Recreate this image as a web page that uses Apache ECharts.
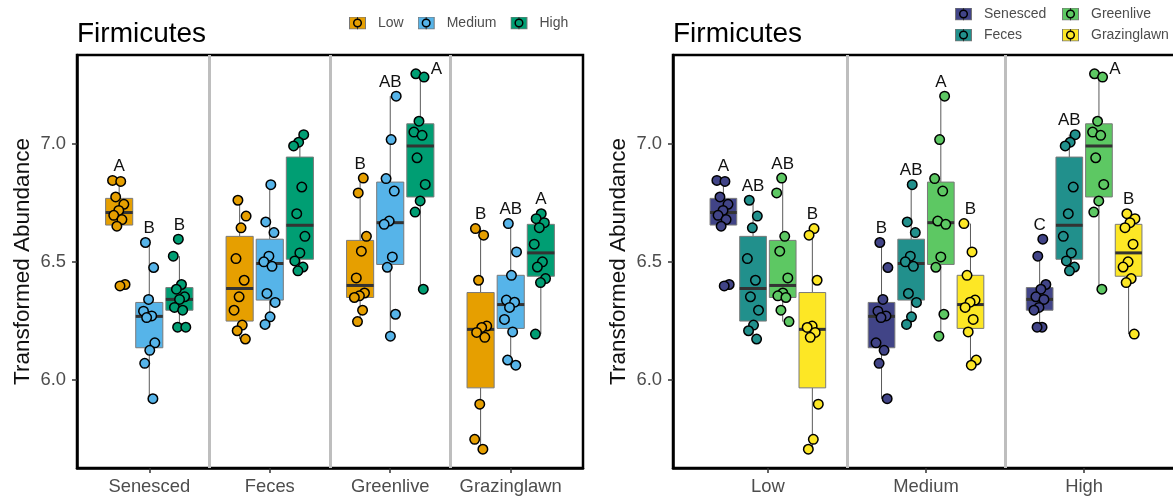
<!DOCTYPE html>
<html>
<head>
<meta charset="utf-8">
<script src="https://cdn.jsdelivr.net/npm/echarts@6/dist/echarts.min.js"></script>
<style>
html,body{margin:0;padding:0;background:#fff;}
#chart{width:1173px;height:498px;}
</style>
</head>
<body>
<div id="chart"></div>
<script>
// ---------- categories ----------
const sites = ['Senesced', 'Feces', 'Greenlive', 'Grazinglawn'];
const levels = ['Low', 'Medium', 'High'];
const levelColors = ['#E69F00', '#56B4E9', '#009E73'];
const siteColors = ['#414487', '#21908C', '#5DC863', '#FDE725'];
const yTicks = [6.0, 6.5, 7.0];

// ---------- observations (transformed abundance) ----------
const senescedLow    = [6.846, 6.842, 6.776, 6.745, 6.719, 6.698, 6.680, 6.652, 6.405, 6.399];
const senescedMedium = [6.583, 6.477, 6.342, 6.292, 6.272, 6.265, 6.158, 6.126, 6.071, 5.921];
const senescedHigh   = [6.597, 6.525, 6.405, 6.385, 6.353, 6.342, 6.308, 6.296, 6.224, 6.224];
const fecesLow       = [6.762, 6.695, 6.645, 6.515, 6.423, 6.353, 6.296, 6.233, 6.209, 6.174];
const fecesMedium    = [6.828, 6.670, 6.625, 6.525, 6.501, 6.482, 6.367, 6.329, 6.268, 6.236];
const fecesHigh      = [7.040, 7.008, 6.992, 6.818, 6.705, 6.609, 6.539, 6.505, 6.479, 6.463];
const greenliveLow   = [6.856, 6.793, 6.609, 6.546, 6.433, 6.369, 6.357, 6.350, 6.296, 6.248];
const greenliveMedium= [7.203, 7.019, 6.854, 6.801, 6.674, 6.660, 6.522, 6.478, 6.279, 6.186];
const greenliveHigh  = [7.298, 7.284, 7.097, 7.051, 7.037, 6.942, 6.829, 6.759, 6.712, 6.385];
const grazingLow     = [6.642, 6.614, 6.423, 6.229, 6.223, 6.202, 6.181, 5.898, 5.749, 5.707];
const grazingMedium  = [6.663, 6.543, 6.444, 6.339, 6.330, 6.308, 6.257, 6.204, 6.085, 6.063];
const grazingHigh    = [6.705, 6.684, 6.667, 6.646, 6.576, 6.501, 6.479, 6.430, 6.413, 6.195];

// ---------- box statistics [lower whisker, Q1, median, Q3, upper whisker] ----------
const senescedLowBox     = [6.652, 6.657, 6.710, 6.770, 6.846];
const senescedMediumBox  = [5.921, 6.137, 6.270, 6.329, 6.583];
const senescedHighBox    = [6.224, 6.296, 6.342, 6.392, 6.525];
const fecesLowBox        = [6.174, 6.250, 6.388, 6.609, 6.762];
const fecesMediumBox     = [6.236, 6.339, 6.494, 6.597, 6.828];
const fecesHighBox       = [6.463, 6.512, 6.656, 6.945, 7.040];
const greenliveLowBox    = [6.248, 6.350, 6.401, 6.592, 6.856];
const greenliveMediumBox = [6.186, 6.490, 6.667, 6.839, 7.203];
const greenliveHighBox   = [6.385, 6.776, 6.992, 7.086, 7.298];
const grazingLowBox      = [5.707, 5.967, 6.215, 6.371, 6.642];
const grazingMediumBox   = [6.063, 6.219, 6.320, 6.444, 6.663];
const grazingHighBox     = [6.195, 6.440, 6.539, 6.660, 6.705];

// ---------- significance letters ----------
const lettersBySite  = [['A', 'B', 'B'], ['', '', ''], ['B', 'AB', 'A'], ['B', 'AB', 'A']]; // [site][level]
const lettersByLevel = [['A', 'AB', 'AB', 'B'], ['B', 'AB', 'A', 'B'], ['C', 'AB', 'A', 'B']]; // [level][site]

// ---------- tables built from the arrays ----------
const obs = [
  [senescedLow, senescedMedium, senescedHigh],
  [fecesLow, fecesMedium, fecesHigh],
  [greenliveLow, greenliveMedium, greenliveHigh],
  [grazingLow, grazingMedium, grazingHigh]
]; // [site][level]
const boxes = [
  [senescedLowBox, senescedMediumBox, senescedHighBox],
  [fecesLowBox, fecesMediumBox, fecesHighBox],
  [greenliveLowBox, greenliveMediumBox, greenliveHighBox],
  [grazingLowBox, grazingMediumBox, grazingHighBox]
];

// y range: data range expanded 5% each side (ggplot default)
const allVals = obs.flat(2);
const dMin = Math.min(...allVals), dMax = Math.max(...allVals);
const yMin = dMin - 0.05 * (dMax - dMin);
const yMax = dMax + 0.05 * (dMax - dMin);

const FONT = '"Liberation Sans", Arial, Helvetica, sans-serif';

function keyIcon(color) {
  const svg = "<svg xmlns='http://www.w3.org/2000/svg' width='24' height='13' viewBox='0 0 24 13'>" +
    "<rect x='0.5' y='0.5' width='16' height='12' fill='" + color + "' stroke='#777' stroke-width='1'/>" +
    "<line x1='8.5' y1='0' x2='8.5' y2='13' stroke='#333' stroke-width='1'/>" +
    "<circle cx='8.5' cy='6.5' r='3.8' fill='" + color + "' stroke='#000' stroke-width='1.5'/></svg>";
  return 'image://data:image/svg+xml;charset=utf-8,' + encodeURIComponent(svg);
}

const series = [];

function buildPanel(gi, outer, inner, colors, getObs, getBox, getLetter) {
  const n = inner.length;
  const spacing = 0.75 / n;
  const boxW = spacing * 0.9;
  const jitHalf = spacing * 0.22;
  const labelData = [];
  inner.forEach((gName, g) => {
    const color = colors[g];
    const boxData = [];
    const ptData = [];
    outer.forEach((oName, c) => {
      const xc = c + 1 + (g - (n - 1) / 2) * spacing;
      boxData.push([xc].concat(getBox(c, g)));
      const vals = getObs(c, g);
      vals.forEach((v, i) => {
        const j = ((i * 0.618034 + c * 0.37 + g * 0.21) % 1) * 2 - 1;
        ptData.push([xc + j * jitHalf, v]);
      });
      const txt = getLetter(c, g);
      if (txt) labelData.push({ x: xc, y: Math.max(...vals), text: txt });
    });
    series.push({
      type: 'custom', name: gName, xAxisIndex: gi, yAxisIndex: gi, z: 2,
      encode: { x: 0, y: [1, 2, 3, 4, 5] },
      data: boxData,
      renderItem: function (params, api) {
        const x = api.value(0);
        const pLo = api.coord([x, api.value(1)]);
        const pQ1 = api.coord([x, api.value(2)]);
        const pMd = api.coord([x, api.value(3)]);
        const pQ3 = api.coord([x, api.value(4)]);
        const pHi = api.coord([x, api.value(5)]);
        const w = api.size([boxW, 0])[0];
        return {
          type: 'group', children: [
            { type: 'line', shape: { x1: pLo[0], y1: pLo[1], x2: pQ1[0], y2: pQ1[1] }, style: { stroke: '#5a5a5a', lineWidth: 1 } },
            { type: 'line', shape: { x1: pQ3[0], y1: pQ3[1], x2: pHi[0], y2: pHi[1] }, style: { stroke: '#5a5a5a', lineWidth: 1 } },
            { type: 'rect', shape: { x: pQ1[0] - w / 2, y: pQ3[1], width: w, height: pQ1[1] - pQ3[1] }, style: { fill: color, stroke: '#7a7a7a', lineWidth: 1 } },
            { type: 'line', shape: { x1: pMd[0] - w / 2, y1: pMd[1], x2: pMd[0] + w / 2, y2: pMd[1] }, style: { stroke: '#333', lineWidth: 3 } }
          ]
        };
      }
    });
    const sc = {
      type: 'scatter', name: gName, xAxisIndex: gi, yAxisIndex: gi, z: 3,
      symbol: 'circle', symbolSize: 9.5,
      itemStyle: { color: color, borderColor: '#000', borderWidth: 1.5, opacity: 1 },
      emphasis: { disabled: true },
      data: ptData
    };
    if (g === 0) {
      const divs = [];
      for (let k = 1; k < outer.length; k++) divs.push({ xAxis: k + 0.5 });
      sc.markLine = {
        silent: true, symbol: 'none', z: 1, animation: false,
        label: { show: false },
        lineStyle: { color: '#BEBEBE', width: 3, type: 'solid' },
        data: divs
      };
    }
    series.push(sc);
  });
  series.push({
    type: 'custom', xAxisIndex: gi, yAxisIndex: gi, z: 4, silent: true,
    encode: { x: 0, y: 1 },
    data: labelData.map(d => [d.x, d.y]),
    renderItem: function (params, api) {
      const d = labelData[params.dataIndex];
      const p = api.coord([d.x, d.y]);
      const top = api.coord([d.x, yMax])[1];
      let dx = 0, dy = -14;
      if (p[1] + dy - 9 < top) { dx = 16; dy = -4; }
      return {
        type: 'text', x: p[0] + dx, y: p[1] + dy,
        style: { text: d.text, fill: '#111', font: '17px ' + FONT, align: 'center', verticalAlign: 'middle' }
      };
    }
  });
}

buildPanel(0, sites, levels, levelColors,
  (c, g) => obs[c][g], (c, g) => boxes[c][g], (c, g) => lettersBySite[c][g]);
buildPanel(1, levels, sites, siteColors,
  (c, g) => obs[g][c], (c, g) => boxes[g][c], (c, g) => lettersByLevel[c][g]);

function xAxisFor(gi, cats) {
  const ticks = cats.map((_, i) => i + 1);
  return {
    gridIndex: gi, type: 'value', min: 0.4, max: cats.length + 0.6,
    axisLine: { show: true, onZero: false, lineStyle: { color: '#000', width: 2.5 } },
    axisTick: { show: true, customValues: ticks, length: 5, lineStyle: { color: '#333', width: 1.5 } },
    axisLabel: { customValues: ticks, formatter: v => cats[Math.round(v) - 1] || '', fontSize: 18.4, color: '#4D4D4D', margin: 10, fontFamily: FONT },
    splitLine: { show: false }
  };
}
function yAxisFor(gi) {
  return {
    gridIndex: gi, type: 'value', min: yMin, max: yMax,
    axisLine: { show: true, onZero: false, lineStyle: { color: '#000', width: 2.5 } },
    axisTick: { show: true, customValues: yTicks, length: 5, lineStyle: { color: '#333', width: 1.5 } },
    axisLabel: { customValues: yTicks, formatter: v => v.toFixed(1), fontSize: 18.4, color: '#4D4D4D', margin: 11, fontFamily: FONT },
    splitLine: { show: false },
    name: 'Transformed Abundance', nameLocation: 'middle', nameGap: 43,
    nameTextStyle: { fontSize: 22.5, color: '#111', fontFamily: FONT }
  };
}

const legendText = { fontSize: 14, color: '#4D4D4D', fontFamily: FONT };
const option = {
  animation: false,
  textStyle: { fontFamily: FONT },
  title: [
    { text: 'Firmicutes', left: 77, top: 20, padding: 0, textStyle: { fontSize: 28, fontWeight: 'normal', color: '#000', fontFamily: FONT } },
    { text: 'Firmicutes', left: 673, top: 20, padding: 0, textStyle: { fontSize: 28, fontWeight: 'normal', color: '#000', fontFamily: FONT } }
  ],
  legend: [
    { data: levels.map((l, i) => ({ name: l, icon: keyIcon(levelColors[i]) })), left: 344, top: 11, orient: 'horizontal',
      itemWidth: 24, itemHeight: 13, itemGap: 14, selectedMode: false, textStyle: legendText },
    { data: [0, 1].map(i => ({ name: sites[i], icon: keyIcon(siteColors[i]) })), left: 950, top: 2, orient: 'vertical',
      itemWidth: 24, itemHeight: 13, itemGap: 7, selectedMode: false, textStyle: legendText },
    { data: [2, 3].map(i => ({ name: sites[i], icon: keyIcon(siteColors[i]) })), left: 1057, top: 2, orient: 'vertical',
      itemWidth: 24, itemHeight: 13, itemGap: 7, selectedMode: false, textStyle: legendText }
  ],
  grid: [
    { left: 77, width: 506, top: 55, bottom: 30, show: true, borderColor: '#000', borderWidth: 2.5, backgroundColor: 'transparent', outerBoundsMode: 'none', containLabel: false },
    { left: 673, width: 506, top: 55, bottom: 30, show: true, borderColor: '#000', borderWidth: 2.5, backgroundColor: 'transparent', outerBoundsMode: 'none', containLabel: false }
  ],
  xAxis: [xAxisFor(0, sites), xAxisFor(1, levels)],
  yAxis: [yAxisFor(0), yAxisFor(1)],
  series: series
};

const chart = echarts.init(document.getElementById('chart'), null, { renderer: 'canvas' });
chart.setOption(option);
</script>
</body>
</html>
